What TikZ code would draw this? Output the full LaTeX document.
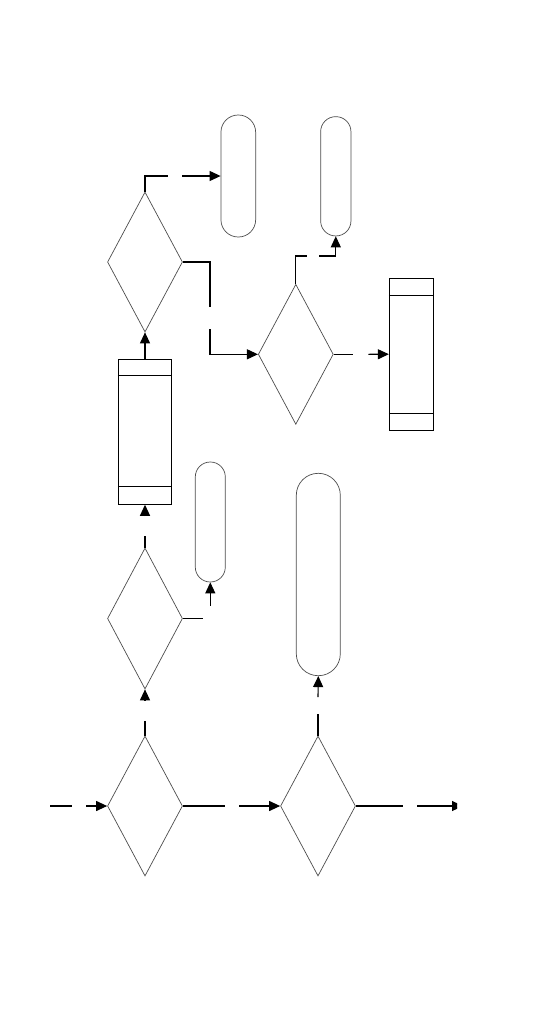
\documentclass[tikz,border=0pt]{standalone}
\usetikzlibrary{arrows.meta,shapes.geometric,calc}
\begin{document}
\begin{tikzpicture}[x=1pt,y=-1pt,
  dec/.style={diamond, draw=black!70, line width=0.7pt, inner sep=0pt, minimum width=75pt, minimum height=140pt},
  term/.style={draw=black!70, line width=0.7pt, rounded corners=#1, inner sep=0pt},
  proc/.style={draw=black, line width=0.9pt, inner sep=0pt},
  conn/.style={draw=black, line width=1.1pt},
  arr/.style={conn, -{Triangle[length=11pt,width=10pt]}}]
\useasboundingbox (0,0) rectangle (540,1026);
% decisions
\node[dec] (D1) at (145,806) {};
\node[dec] (D2) at (318,806) {};
\node[dec, minimum height=141pt] (D3) at (145,618.5) {};
\node[dec] (D4) at (145,262) {};
\node[dec] (D5) at (295.8,354.3) {};
% processes
\node[proc, minimum width=53.4pt, minimum height=145pt] (P1) at (145,431.8) {};
\draw[proc] ($(P1.north west)+(0,17)$) -- ($(P1.north east)+(0,17)$);
\draw[proc] ($(P1.south west)+(0,-18)$) -- ($(P1.south east)+(0,-18)$);
\node[proc, minimum width=44pt, minimum height=151.7pt] (P2) at (411.3,354.2) {};
\draw[proc] ($(P2.north west)+(0,18)$) -- ($(P2.north east)+(0,18)$);
\draw[proc] ($(P2.south west)+(0,-17)$) -- ($(P2.south east)+(0,-17)$);
% terminators
\node[term=17.2pt, minimum width=34.7pt, minimum height=122pt] (T1) at (238.3,176) {};
\node[term=15pt, minimum width=30.3pt, minimum height=119.3pt] (T2) at (335.8,176.3) {};
\node[term=14.9pt, minimum width=30pt, minimum height=120pt] (T3) at (210.3,522) {};
\node[term=21.9pt, minimum width=44pt, minimum height=202.4pt] (T4) at (318.3,574.5) {};
% coordinates for connector breaks
\coordinate (in0) at (50,806);
\coordinate (in1) at (71.7,806);
\coordinate (in2) at (86,806);
\coordinate (a1) at (225,806);
\coordinate (a2) at (239,806);
\coordinate (b1) at (403,806);
\coordinate (b2) at (417,806);
\coordinate (out) at (463,806);
\coordinate (c1) at (145,721);
\coordinate (c2) at (145,700);
\coordinate (d1) at (145,536);
\coordinate (d2) at (145,516);
\coordinate (e0) at (145,176);
\coordinate (e1) at (167.7,176);
\coordinate (e2) at (182.3,176);
\coordinate (f0) at (210,262);
\coordinate (f1) at (210,307.3);
\coordinate (f2) at (210,329.3);
\coordinate (f3) at (210,354.3);
\coordinate (g0) at (295.8,256);
\coordinate (g1) at (306.7,256);
\coordinate (g2) at (319,256);
\coordinate (g3) at (335.8,256);
\coordinate (h1) at (353.3,354.3);
\coordinate (h2) at (368.3,354.3);
\coordinate (k1) at (202.7,618.5);
\coordinate (k2) at (210.3,605.7);
\coordinate (m1) at (318,714);
\coordinate (m2) at (318,697);
% connectors
\draw[conn] (in0) -- (in1);
\draw[arr] (in2) -- (D1.west);
\draw[conn] (D1.east) -- (a1);
\draw[arr] (a2) -- (D2.west);
\draw[conn] (D2.east) -- (b1);
\begin{scope}
\clip (400,790) rectangle (457,822);
\draw[arr] (b2) -- (out);
\end{scope}
\draw[conn] (D1.north) -- (c1);
\draw[arr] (c2) -- (D3.south);
\draw[conn] (D3.north) -- (d1);
\draw[arr] (d2) -- (P1.south);
\draw[arr] (P1.north) -- (D4.south);
\draw[conn] (D4.north) -- (e0) -- (e1);
\draw[arr] (e2) -- (T1.west);
\draw[conn] (D4.east) -- (f0) -- (f1);
\draw[arr] (f2) -- (f3) -- (D5.west);
\draw[conn] (D5.north) -- (g0) -- (g1);
\draw[arr] (g2) -- (g3) -- (T2.south);
\draw[conn] (D5.east) -- (h1);
\draw[arr] (h2) -- (P2.west);
\draw[conn] (D3.east) -- (k1);
\draw[arr] (k2) -- (T3.south);
\draw[conn] (D2.north) -- (m1);
\draw[arr] (m2) -- (T4.south);
\end{tikzpicture}
\end{document}
